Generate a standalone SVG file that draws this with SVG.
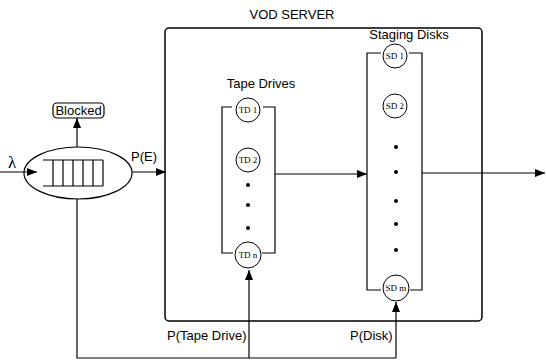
<svg xmlns="http://www.w3.org/2000/svg" width="546" height="360" viewBox="0 0 546 360">
<defs>
<marker id="ah" markerWidth="10" markerHeight="8" refX="10" refY="4" orient="auto" markerUnits="userSpaceOnUse">
<path d="M0,0 L10,4 L0,8 Z" fill="#000"/>
</marker>
<style>
.ln{fill:none;stroke:#000;stroke-width:1.2}
.lbl{font-family:"Liberation Sans",Arial,sans-serif;font-size:13px;fill:#000}
.cl{font-family:"Liberation Serif","Times New Roman",serif;font-size:9px;fill:#000;text-anchor:middle}
.c{fill:#fff;stroke:#000;stroke-width:1}
.dot{fill:#000}
</style>
</defs>
<rect width="546" height="360" fill="#fff"/>

<g id="server">
<rect x="165" y="28" width="317" height="293" rx="4" fill="none" stroke="#000" stroke-width="1.5"/>
<text class="lbl" x="292" y="19" text-anchor="middle">VOD SERVER</text>
</g>

<g id="queue">
<ellipse cx="78" cy="173" rx="54" ry="26" class="ln"/>
<path class="ln" d="M43,160 H103 M43,186 H103 M53,160 V186 M63,160 V186 M73,160 V186 M83,160 V186 M93,160 V186 M103,160 V186"/>
</g>

<g id="blocked">
<rect x="53" y="103" width="51" height="15" rx="4" class="ln"/>
<text class="lbl" x="78.5" y="115" text-anchor="middle" font-size="12">Blocked</text>
</g>

<g id="tape-drives">
<text class="lbl" x="261" y="88" text-anchor="middle">Tape Drives</text>
<path class="ln" d="M232,107 H222 V253 H233 M263,107 H275 V253 H262"/>
<circle class="c" cx="248" cy="110" r="12"/><text class="cl" x="248" y="113">TD 1</text>
<circle class="c" cx="248" cy="160" r="12"/><text class="cl" x="248" y="163">TD 2</text>
<circle class="dot" cx="248" cy="185" r="2"/>
<circle class="dot" cx="248" cy="205" r="2"/>
<circle class="dot" cx="248" cy="228" r="2"/>
<circle class="c" cx="248" cy="255" r="13"/><text class="cl" x="248" y="258">TD n</text>
</g>

<g id="staging-disks">
<text class="lbl" x="409" y="39" text-anchor="middle">Staging Disks</text>
<path class="ln" d="M381,53 H367 V290 H381 M409,53 H422 V290 H410"/>
<circle class="c" cx="395" cy="56" r="12"/><text class="cl" x="395" y="59">SD 1</text>
<circle class="c" cx="395" cy="106" r="12"/><text class="cl" x="395" y="109">SD 2</text>
<circle class="dot" cx="396" cy="147" r="2"/>
<circle class="dot" cx="396" cy="172" r="2"/>
<circle class="dot" cx="396" cy="201" r="2"/>
<circle class="dot" cx="396" cy="224" r="2"/>
<circle class="dot" cx="396" cy="250" r="2"/>
<circle class="c" cx="396" cy="288" r="13"/><text class="cl" x="396" y="291">SD m</text>
</g>

<g id="connectors">
<path class="ln" d="M0,172 H37" marker-end="url(#ah)"/>
<path class="ln" d="M77,147 V118" marker-end="url(#ah)"/>
<path class="ln" d="M132,172 H166" marker-end="url(#ah)"/>
<path class="ln" d="M275,174 H367" marker-end="url(#ah)"/>
<path class="ln" d="M422,173 H545" marker-end="url(#ah)"/>
<path class="ln" d="M77,199 V358 H396"/>
<path class="ln" d="M249,358 V270" marker-end="url(#ah)"/>
<path class="ln" d="M396,358 V302" marker-end="url(#ah)"/>
</g>

<g id="labels">
<text x="8" y="168" font-family="Liberation Serif,serif" font-size="17">λ</text>
<text class="lbl" x="131" y="161">P(E)</text>
<text class="lbl" x="167" y="340">P(Tape Drive)</text>
<text class="lbl" x="350" y="340">P(Disk)</text>
</g>
</svg>
